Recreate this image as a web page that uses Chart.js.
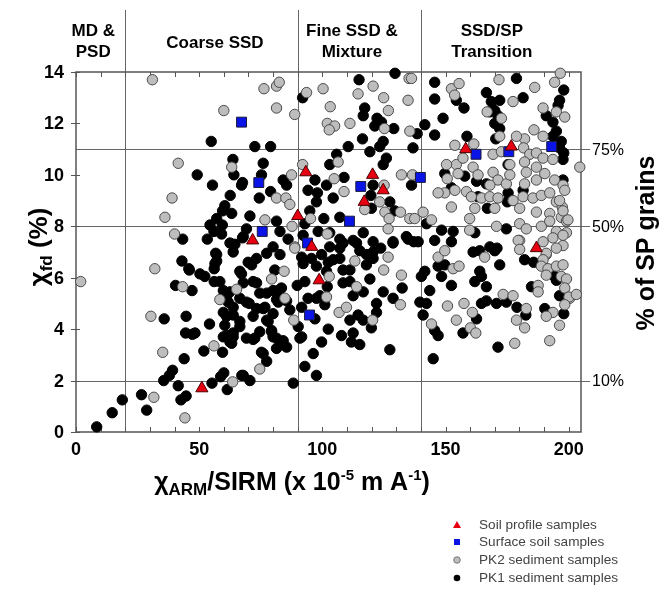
<!DOCTYPE html>
<html>
<head>
<meta charset="utf-8">
<script src="https://cdn.jsdelivr.net/npm/chart.js@4.4.1/dist/chart.umd.min.js"></script>
<style>
  html, body { margin: 0; padding: 0; background: #fff; }
  #wrap { width: 663px; height: 589px; position: relative; }
</style>
</head>
<body>
<div id="wrap"><canvas id="chart"></canvas></div>
<script>
// axis ticks
const xTicks = [0, 50, 100, 150, 200];
const yTicks = [0, 2, 4, 6, 8, 10, 12, 14];

// domain boundaries (chiARM/SIRM) and their labels
const zoneBounds = [20, 90, 140];
const zoneLabels = [["MD &", "PSD"], ["Coarse SSD"], ["Fine SSD &", "Mixture"], ["SSD/SP", "Transition"]];

// chi_fd levels for % of SP grains
const spLevels = [2, 8, 11];
const spLabels = ["10%", "50%", "75%"];

const legendLabels = ["Soil profile samples", "Surface soil samples", "PK2 sediment samples", "PK1 sediment samples"];

// [chiARM/SIRM, chi_fd]
const soilProfile = [[51.1,1.7],[71.7,7.45],[90,8.4],[95.7,7.2],[93.3,10.1],[98.7,5.9],[117,8.95],[120.4,10.0],[124.7,9.4],[158.2,11.0],[176.7,11.1],[186.9,7.15]];

const surfaceSoil = [[67.2,12.05],[74.2,9.7],[115.6,9.55],[111,8.2],[75.6,7.8],[94,7.35],[162.4,10.8],[175.7,10.9],[193.1,11.1],[139.8,9.9],[94.8,4.55]];

const pk2 = [[31,13.7],[60,12.5],[41.5,10.45],[63.2,10.3],[39,9.1],[36.1,8.35],[40,7.7],
  [76.3,13.35],[81.4,13.45],[82.5,13.6],[81.4,12.6],[88.8,12.35],[93.6,13.2],[100.3,13.35],[103.2,12.65],[102,12.0],[105,11.9],[102.8,11.75],[111.2,12.0],[114.5,13.15],[120.6,13.45],[124.9,13.0],[126.8,12.5],[125.2,11.8],[135.2,13.75],[134.8,12.9],[135.5,11.7],
  [92,10.4],[87.5,10.0],[81.4,9.1],[85.2,9.1],[86.8,8.85],[104.8,9.85],[108.8,9.35],[106.4,10.5],[132.1,10.0],[125.1,9.6],[123.3,8.95],[117.2,8.65],[125.4,8.55],[131.7,8.55],[127.1,8.3],[135.5,8.3],[76.7,8.25],[95.2,8.3],[87.7,8.0],[102,7.7],[126.7,7.9],[88.8,7.2],
  [152.4,13.35],[153.7,13.1],[155.5,13.55],[166.9,12.45],[172.7,12.2],[177.4,12.85],[171.7,13.7],[186.2,13.4],[194.3,13.6],[196.6,13.95],[189.6,12.6],[195,12.45],[198.4,12.25],[185.9,11.75],[189.6,11.5],[182.1,11.4],[178.8,11.5],[172,11.5],
  [153.8,11.15],[161.5,11.2],[169.3,10.8],[172.7,10.9],[181.7,11.05],[184.2,10.8],[186.9,10.85],[189.6,10.65],[193.6,10.6],[182.1,10.5],[176.1,10.4],[182.8,10.1],[186.9,10.3],[190.3,10.05],[204.5,10.3],[154.4,10.4],[157.1,10.65],[150.4,10.4],[161.2,10.3],[163.2,10.0],[150.7,9.85],[155.1,10.05],[169.3,10.1],[171.3,9.8],[174.7,9.65],[168,9.6],[176.1,10.0],[182.1,9.65],[186.9,9.8],[194.3,9.8],[197.7,9.6],
  [153.8,9.4],[158.5,9.35],[149.7,9.3],[160.5,9.15],[164.6,9.1],[168,9.15],[171.3,9.1],[177.4,9.0],[181.5,9.15],[185.5,9.1],[188.9,9.2],[192.3,9.3],[195,8.95],[197.4,8.75],[147,9.3],[152.4,8.75],[161.9,8.7],[170,8.7],[180.1,8.7],[186.9,8.55],[192.3,8.5],[197,8.35],[199.1,8.2],
  [140.9,8.55],[137.5,8.3],[144.3,8.25],[159.8,8.3],[180.1,8.1],[182.8,7.9],[188.9,8.0],[192.3,8.2],[195,7.8],[199.1,7.75],[193.6,7.55],[189.6,7.4],[197.7,7.25],[170.7,8.0],[159.8,7.85],[180.1,7.45],[136.6,10.0],[136.2,13.75],
  [198.4,9.4],[196.3,9.0],[197.7,8.6],[199.7,8.25],[197.7,7.65],[179.5,7.45],[190.9,6.9],[200.4,5.2],
  [1.9,5.85],[32,6.35],[43.3,5.65],[58.4,5.15],[65.2,5.55],[30.4,4.5],[35.2,3.1],[56,3.35],[63.6,1.95],[31.6,1.35],[44.2,0.55],
  [84.5,6.25],[79.4,5.95],[84.8,5.2],[88.4,4.35],[74.6,2.45],[102.8,6.05],[101.7,5.25],[106.8,4.65],[109.8,4.85],[113.9,5.65],[113.2,6.65],[124.9,6.3],[126.7,6.8],[132.1,6.1],[131.7,4.95],[120.4,4.35],[88.8,7.15],
  [147,6.8],[153.1,6.35],[155.5,6.45],[165.9,6.8],[180.1,7.1],[190.9,6.95],[195,7.15],[189.6,6.7],[188.9,6.45],[191.6,6.35],[195,6.45],[197.7,6.5],[190.9,6.1],[197,6.05],[199.1,5.95],[187.6,5.7],[187.6,5.45],[198.4,5.6],[200.1,5.25],[203.1,5.35],[198.4,4.95],[193.6,4.65],[190.9,4.5],[196.3,4.15],[192.3,3.55],
  [182.8,4.8],[178.8,4.35],[182.1,4.05],[178.1,3.45],[173.4,5.35],[177.4,5.3],[157.5,5.0],[160.9,4.65],[154.4,4.35],[160.1,4.05],[162.3,3.85],[150.8,4.9],[144.3,4.2],[149.7,7.05]];

const pk1 = [[54.9,11.3],[63.7,10.6],[64.1,10.0],[49.2,10.0],[55.4,9.6],[67.2,9.6],[62.6,9.2],[60.4,8.8],[63.2,8.5],[59.5,8.6],[57.1,8.3],[54.4,8.05],[59.4,8.05],[56,7.8],[59.1,7.7],[53.3,7.5],[43.3,7.5],[64.5,7.3],[67.6,7.55],
  [72.6,11.1],[79,11.1],[92,13.0],[114.9,13.7],[129.5,13.95],[117.2,12.6],[116.6,12.3],[122.2,12.2],[124,12.05],[121.3,11.9],[129,11.8],[116.3,11.4],[124.7,11.3],[123.3,11.1],[110.5,11.1],[119.3,10.9],[105.8,10.8],[126,10.65],[124.7,10.4],[103,10.4],[76,10.45],[75.3,10.0],[67.6,9.7],
  [84.1,9.8],[85.5,9.6],[97,9.8],[94.2,9.4],[98,9.3],[101.7,9.6],[108.8,9.9],[104.4,9.1],[79,9.35],[74.4,9.1],[97.6,8.95],[120.6,9.6],[119.7,9.2],[127.4,8.95],[119.9,8.7],[129.4,8.6],[70.6,8.4],[81.4,8.2],[94.9,8.6],[100.6,8.3],[107.1,8.35],[92.9,8.1],
  [82.8,7.8],[69.2,7.9],[67.9,7.6],[86.1,7.5],[92.2,7.65],[98.3,7.8],[107.1,7.5],[112.5,7.45],[120.6,7.4],[128.7,7.4],[134.8,7.5],[80,7.2],[103,7.2],
  [145.6,13.6],[178.8,13.75],[166.6,13.2],[145.6,12.95],[154.4,12.9],[157.5,12.6],[149,12.2],[141.6,11.95],[145.6,11.55],[138.5,11.6],[168.6,12.85],[172,12.9],[181.5,13.0],[170,12.5],[168,12.45],[171.3,12.3],[170,12.0],[172,11.8],[170.4,11.4],[158.7,11.5],
  [198,13.3],[196.3,12.9],[195.7,12.7],[190.9,12.3],[193.6,12.05],[195,11.7],[193.6,11.5],[197,11.3],[196.3,11.05],[198,10.85],[197.7,10.6],[175.4,10.4],[136.8,11.05],[149.7,10.05],[157.8,9.95],[152.4,9.5],[162.6,9.75],[166.6,9.65],[175.4,9.3],[181.5,9.4],[197.7,9.8],[163.2,9.15],[175.1,8.95],[167,8.7],[136.2,9.6],
  [142.3,8.1],[148.4,7.85],[153.1,7.8],[161.9,7.75],[174.7,7.9],[137.1,7.4],[145.6,7.45],[152.4,7.4],[168,7.2],[170.9,7.15],
  [8.4,0.2],[14.7,0.75],[18.8,1.25],[26.6,1.45],[28.7,0.85],[35.6,2.0],[37.9,2.2],[39.2,2.4],[41.5,1.8],[42.6,1.25],[44.7,1.4],[35.8,4.4],[44.7,4.5],[44.5,3.85],[48.3,3.85],[43.9,2.85],[51.9,3.15],[54.2,4.2],[59.5,3.1],[55.2,1.9],[58.7,2.15],[60,2.3],[61.4,1.65],[67.3,2.2],
  [43,6.65],[45.8,6.35],[40.4,5.7],[47.1,5.5],[50.3,6.15],[52.3,6.05],[56.1,6.35],[57.1,6.65],[56.7,6.95],[63.8,7.0],[56.1,5.85],[59.8,5.5],[61.8,5.05],[59.8,4.65],[63.8,4.55],[60.4,4.15],[61.1,3.75],[63.8,3.7],[63.2,3.45],[66.5,4.1],[62.5,5.45],[66.5,5.2],
  [71.3,6.5],[73.3,6.75],[77.4,6.95],[80.7,6.3],[82.8,6.9],[71.9,5.85],[74.6,5.4],[70.3,5.0],[73.3,4.8],[76.7,4.85],[80,5.5],[83.4,5.6],[81.4,5.15],[80,4.6],[78,4.3],[74.6,3.9],[79.4,3.9],[81.4,3.65],[83.4,3.4],[69.2,3.65],[71.9,3.6],[75.3,3.1],[77.4,2.75],[67.9,2.2],[70.6,2.0],
  [85.5,5.1],[86.8,4.75],[90.2,4.1],[90.9,3.65],[96.3,3.05],[92.9,2.55],[97.6,2.2],[88.2,1.9],[89.8,5.7],[91.6,4.85],[94.2,5.2],[97.6,5.2],[101,4.95],[97,4.4],[102.4,4.0],[99.7,3.5],[102.4,6.6],[101.7,6.25],[102,5.65],[107.1,6.75],[108.4,6.3],[111.2,5.85],[116.6,5.45],[112.5,5.3],
  [107.8,3.75],[112.5,3.85],[111.8,3.5],[115.2,3.4],[111.2,4.35],[114.5,4.55],[116.6,4.35],[119.9,4.05],[122,4.65],[122,5.0],[119.3,5.95],[117.9,6.5],[120.6,6.75],[124.7,5.45],[128.7,5.2],[132.4,5.6],[127.4,3.2],[123.7,7.15],[115.2,7.05],[107.1,7.15],[66.5,6.25],[66.5,4.3],
  [140.2,6.05],[141.6,6.25],[143.6,5.5],[139.6,5.05],[142.3,5.0],[140.9,4.55],[145.6,3.95],[147,3.75],[145,2.85],[148.4,6.05],[149.7,6.5],[152.4,5.7],[161.9,5.85],[163.9,6.25],[164.6,6.05],[166.6,5.65],[161.2,7.0],[163.9,7.05],[170,7.05],[172,6.5],[164.6,5.0],[166.6,5.1],[170.7,5.0],[174.7,5.05],[162.6,4.4],[157.1,3.85],[179,4.85],[182.6,4.55],[171.3,3.3],[182.1,6.7],[185.8,6.6],[184.9,5.65],[194.3,6.05],[195,5.9],[196.3,5.3],[190.3,4.8],[198,4.6],
  [57.1,6.9],[62.5,7.35],[46,6.3],[56.4,6.55],[58.4,5.85],[67.2,6.15],[69.9,6.6],[67.9,5.8],[73.3,5.8],[77.4,5.4],[82.1,5.5],[82.1,5.05],[76,4.8],[69.2,5.05],[63.8,4.85],[61.1,5.25],[61.1,4.5],[71.9,4.5],[77.4,4.35],[79.4,3.95],[80,3.7],[84.1,3.55],[85.5,3.3],[81.4,3.25],[76,3.05],[63.8,3.85],[59.8,3.7],[62.5,3.5],[72.6,3.65],[47.2,3.8],[91.6,3.7],[92.9,5.85],[92.2,6.55],[95.6,6.75],[99,5.3],
  [108.4,7.35],[113.9,7.35],[117.9,6.9],[120.6,7.0],[104.4,6.7],[111.2,6.3],[108.4,5.8],[128.7,7.35],[134.1,7.6],[138.9,7.4],[147,6.45],[103,7.75],[116.6,7.75],[99.7,6.9],[91.6,6.8],[97.6,6.45]];

const FONT = '"Liberation Sans", Arial, Helvetica, sans-serif';

function toPoints(arr) {
  return arr.map(p => ({ x: p[0], y: p[1] }));
}

// draws a run of text parts [text, size, dy] centred on (cx, cy)
function richText(ctx, parts, cx, cy, angle, weight) {
  ctx.save();
  ctx.translate(cx, cy);
  if (angle) ctx.rotate(angle);
  const w = weight || 'bold';
  let total = 0;
  const widths = parts.map(p => {
    ctx.font = `${w} ${p[1]}px ${FONT}`;
    const m = ctx.measureText(p[0]).width;
    total += m;
    return m;
  });
  let xx = -total / 2;
  const base = parts[0][1] * 0.36;
  ctx.textAlign = 'left';
  ctx.textBaseline = 'alphabetic';
  parts.forEach((p, i) => {
    ctx.font = `${w} ${p[1]}px ${FONT}`;
    ctx.fillText(p[0], xx, base + (p[2] || 0));
    xx += widths[i];
  });
  ctx.restore();
}

const decor = {
  id: 'decor',
  beforeDatasetsDraw(chart) {
    const { ctx, chartArea: a, scales: { x, y } } = chart;
    ctx.save();
    ctx.strokeStyle = '#666';
    ctx.lineWidth = 1;
    ctx.beginPath();
    zoneBounds.forEach(v => {
      const px = Math.round(x.getPixelForValue(v)) + 0.5;
      ctx.moveTo(px, 10);
      ctx.lineTo(px, a.bottom);
    });
    spLevels.forEach(v => {
      const py = Math.round(y.getPixelForValue(v)) + 0.5;
      ctx.moveTo(a.left, py);
      ctx.lineTo(a.right + 9, py);
    });
    ctx.stroke();

    // frame
    ctx.strokeStyle = '#555';
    ctx.lineWidth = 1.5;
    ctx.strokeRect(a.left, a.top, a.right - a.left, a.bottom - a.top);

    // ticks
    ctx.beginPath();
    ctx.lineWidth = 1;
    for (let v = 0; v <= 200; v += 10) {
      const px = Math.round(x.getPixelForValue(v)) + 0.5;
      ctx.moveTo(px, a.bottom); ctx.lineTo(px, a.bottom - 5);
      ctx.moveTo(px, a.top); ctx.lineTo(px, a.top + 5);
    }
    yTicks.forEach(v => {
      const py = Math.round(y.getPixelForValue(v)) + 0.5;
      ctx.moveTo(a.left - 5, py); ctx.lineTo(a.left + 4, py);
    });
    ctx.stroke();
    ctx.restore();
  },
  afterDraw(chart) {
    const { ctx, chartArea: a, scales: { x, y } } = chart;
    ctx.save();
    ctx.fillStyle = '#000';

    // tick labels
    ctx.font = `bold 18px ${FONT}`;
    ctx.textAlign = 'center';
    ctx.textBaseline = 'top';
    xTicks.forEach(v => ctx.fillText(String(v), x.getPixelForValue(v), a.bottom + 9));
    ctx.textAlign = 'right';
    ctx.textBaseline = 'middle';
    yTicks.forEach(v => ctx.fillText(String(v), a.left - 12, y.getPixelForValue(v) + 1));

    // zone labels above the plot
    const zoneCenters = [7, 56.4, 112, 168.8];
    ctx.font = `bold 17px ${FONT}`;
    ctx.textAlign = 'center';
    zoneLabels.forEach((lines, i) => {
      const cx = x.getPixelForValue(zoneCenters[i]);
      if (lines.length === 1) {
        ctx.fillText(lines[0], cx, 43);
      } else {
        ctx.fillText(lines[0], cx, 31);
        ctx.fillText(lines[1], cx, 52);
      }
    });

    // % of SP labels on the right
    ctx.font = `16px ${FONT}`;
    ctx.textAlign = 'left';
    spLevels.forEach((v, i) => ctx.fillText(spLabels[i], a.right + 11, y.getPixelForValue(v) + 1));

    // axis titles
    richText(ctx, [['\u03c7', 26], ['fd', 17, 5], [' (%)', 26]], 38, 247, -Math.PI / 2);
    richText(ctx, [['% of SP grains', 25]], 645, 243, -Math.PI / 2);
    richText(ctx, [['\u03c7', 25], ['ARM', 17, 5], ['/SIRM (x 10', 25], ['-5', 15, -10], [' m A', 25], ['-1', 15, -10], [')', 25]], 292, 481);

    // legend
    const rows = [525, 542, 560, 578];
    const mx = 457;
    ctx.font = `13.6px ${FONT}`;
    ctx.fillStyle = '#444';
    ctx.textAlign = 'left';
    ctx.textBaseline = 'middle';
    legendLabels.forEach((t, i) => ctx.fillText(t, 479, rows[i]));

    ctx.lineWidth = 0.8;
    // triangle
    ctx.fillStyle = '#e60012';
    ctx.beginPath();
    ctx.moveTo(mx, rows[0] - 4); ctx.lineTo(mx + 4, rows[0] + 3); ctx.lineTo(mx - 4, rows[0] + 3); ctx.closePath();
    ctx.fill();
    // square
    ctx.fillStyle = '#0a14e6';
    ctx.fillRect(mx - 3, rows[1] - 3, 6, 6);
    // gray circle
    ctx.fillStyle = '#bdbdbd';
    ctx.strokeStyle = '#666';
    ctx.beginPath(); ctx.arc(mx, rows[2], 3.3, 0, Math.PI * 2); ctx.fill(); ctx.stroke();
    // black circle
    ctx.fillStyle = '#000';
    ctx.beginPath(); ctx.arc(mx, rows[3], 3.3, 0, Math.PI * 2); ctx.fill();
    ctx.restore();
  }
};

new Chart(document.getElementById('chart'), {
  type: 'scatter',
  data: {
    datasets: [
      { label: legendLabels[0], data: toPoints(soilProfile), pointStyle: 'triangle', pointRadius: 7,
        pointBackgroundColor: '#e60012', pointBorderColor: '#4a0000', pointBorderWidth: 1, order: 0, clip: false },
      { label: legendLabels[1], data: toPoints(surfaceSoil), pointStyle: 'rect', pointRadius: 7,
        pointBackgroundColor: '#0a14e6', pointBorderColor: '#1a1a3a', pointBorderWidth: 1, order: 1, clip: false },
      { label: legendLabels[2], data: toPoints(pk2), pointStyle: 'circle', pointRadius: 5.2,
        pointBackgroundColor: '#bdbdbd', pointBorderColor: '#4a4a4a', pointBorderWidth: 1, order: 2, clip: false },
      { label: legendLabels[3], data: toPoints(pk1), pointStyle: 'circle', pointRadius: 5.2,
        pointBackgroundColor: '#000', pointBorderColor: '#000', pointBorderWidth: 1, order: 3, clip: false }
    ]
  },
  options: {
    responsive: true,
    maintainAspectRatio: false,
    animation: false,
    layout: { padding: { left: 76, right: 82, top: 72, bottom: 157 } },
    scales: {
      x: { type: 'linear', min: 0, max: 205, display: false },
      y: { type: 'linear', min: 0, max: 14, display: false }
    },
    plugins: { legend: { display: false }, tooltip: { enabled: false } },
    events: []
  },
  plugins: [decor]
});
</script>
</body>
</html>
